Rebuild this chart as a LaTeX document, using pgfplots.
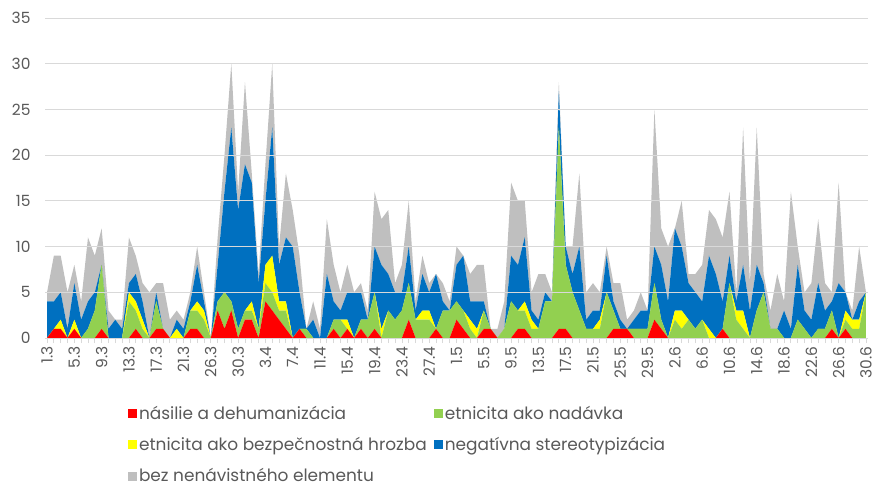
\documentclass[border=0pt]{standalone}
\usepackage{pgfplots}
\pgfplotsset{compat=1.18}
\usepackage{pgfplotstable}
\usepackage{fontspec}
\setmainfont{Poppins}
\definecolor{cred}{HTML}{FF0000}
\definecolor{cgreen}{HTML}{92D050}
\definecolor{cyellow}{HTML}{FFFF00}
\definecolor{cblue}{HTML}{0070C0}
\definecolor{cgrey}{HTML}{BFBFBF}
\definecolor{gridgrey}{HTML}{D9D9D9}
\definecolor{txtgrey}{HTML}{595959}

\pgfplotstableread{
i r g y b n
0 0 0 0 4 1
1 1 0 0 3 5
2 1 0 1 3 4
3 0 0 0 1 4
4 1 0 1 4 2
5 0 0 0 2 2
6 0 1 0 3 7
7 0 3 0 2 4
8 1 7 0 0 4
9 0 0 0 1 2
10 0 0 0 2 0
11 0 0 0 1 1
12 0 4 1 1 5
13 1 2 1 3 2
14 0 1 1 2 2
15 0 0 0 0 5
16 1 3 0 1 1
17 1 0 0 0 5
18 0 0 0 0 2
19 0 0 1 1 1
20 0 0 0 1 1
21 1 2 0 1 1
22 1 2 1 4 2
23 0 2 1 1 1
24 0 0 0 0 0
25 3 1 0 4 3
26 1 4 0 11 4
27 3 1 0 19 7
28 0 1 0 13 2
29 2 1 0 16 9
30 2 1 1 13 1
31 0 1 0 5 1
32 4 2 2 7 4
33 3 2 4 14 7
34 2 1 1 4 2
35 1 2 1 7 7
36 0 0 0 10 4
37 1 0 0 4 4
38 0 1 0 0 0
39 0 0 0 2 2
40 0 0 0 0 1
41 0 0 0 7 6
42 1 1 0 2 4
43 0 2 0 1 2
44 1 0 1 3 3
45 0 0 0 5 0
46 1 1 0 3 1
47 0 2 0 0 1
48 1 4 0 5 6
49 0 0 1 7 5
50 0 3 0 4 7
51 0 2 0 3 1
52 0 3 0 2 3
53 2 4 0 4 5
54 0 2 0 1 1
55 0 2 1 4 2
56 0 2 1 2 1
57 1 0 0 6 0
58 0 3 0 1 2
59 0 3 0 0 1
60 2 2 0 4 2
61 1 2 0 6 0
62 0 1 1 2 3
63 0 0 1 3 4
64 1 2 0 1 4
65 1 0 0 0 0
66 0 0 0 0 1
67 0 1 0 0 3
68 0 4 0 5 8
69 1 2 0 5 7
70 1 2 1 7 4
71 0 1 1 1 2
72 0 1 0 1 5
73 0 4 0 1 2
74 0 4 0 0 1
75 1 22 0 4 1
76 1 7 0 2 0
77 0 5 0 2 3
78 0 3 0 7 8
79 0 1 0 1 3
80 0 1 0 2 3
81 0 1 1 1 2
82 0 5 0 4 1
83 1 2 0 1 2
84 1 0 0 1 4
85 1 0 0 0 1
86 0 1 0 1 1
87 0 1 0 2 2
88 0 1 0 2 0
89 2 4 0 4 15
90 1 1 0 6 4
91 0 0 0 4 6
92 0 2 1 9 0
93 0 1 2 7 5
94 0 2 0 4 1
95 0 1 0 4 2
96 0 2 0 2 4
97 0 0 1 8 5
98 0 0 0 7 6
99 1 0 0 3 7
100 0 6 0 3 7
101 0 2 1 1 1
102 0 1 2 5 15
103 0 0 0 3 3
104 0 3 0 5 15
105 0 5 0 1 1
106 0 1 0 0 2
107 0 1 0 0 6
108 0 0 0 3 1
109 0 0 0 1 15
110 0 2 0 6 2
111 0 1 0 2 2
112 0 0 0 2 4
113 0 1 0 5 7
114 0 1 0 2 3
115 1 2 0 1 1
116 0 0 0 6 11
117 1 1 1 2 0
118 0 1 1 0 1
119 0 1 1 2 6
120 0 5 0 0 0
}\data

\begin{document}
\begin{tikzpicture}
\begin{axis}[
  width=823bp, height=320bp, scale only axis,
  xmin=-0.3, xmax=120.3, ymin=0, ymax=35,
  stack plots=y,
  area style,
  axis x line*=bottom, axis y line*=left,
  axis line style={-},
  x axis line style={draw=gridgrey, line width=0.8pt},
  y axis line style={draw=none},
  ytick={0,5,...,35},
  ymajorgrids, grid style={gridgrey, line width=0.8pt},
  ytick style={draw=none},
  xtick={0,4,...,120},
  xticklabels={1.3,5.3,9.3,13.3,17.3,21.3,26.3,30.3,3.4,7.4,11.4,15.4,19.4,23.4,27.4,1.5,5.5,9.5,13.5,17.5,21.5,25.5,29.5,2.6,6.6,10.6,14.6,18.6,22.6,26.6,30.6},
  minor x tick num=3,
  tick align=outside,
  major tick length=5bp, minor tick length=5bp,
  xtick style={draw=gridgrey, line width=0.8pt},
  minor tick style={draw=gridgrey, line width=0.8pt},
  /pgf/number format/assume math mode=true,
  tick label style={font=\fontsize{15.5}{17}\selectfont, text=txtgrey},
  x tick label style={rotate=90, anchor=east},
  y tick label style={anchor=east, xshift=-6bp},
  legend columns=2,
  legend cell align=left,
  legend image code/.code={\fill[#1] (0bp,-4.5bp) rectangle (9bp,4.5bp);},
  legend style={at={(0.097,-0.2)}, anchor=north west, draw=none, fill=none,
    font=\fontsize{17}{20}\selectfont, text=txtgrey,
    row sep=12.5bp,
    /tikz/every even column/.append style={column sep=5bp}},
]
\addplot[fill=cred, draw=none] table[x=i, y=r] {\data} \closedcycle;
\addlegendentry{násilie a dehumanizácia}
\addplot[fill=cgreen, draw=none] table[x=i, y=g] {\data} \closedcycle;
\addlegendentry{etnicita ako nadávka}
\addplot[fill=cyellow, draw=none] table[x=i, y=y] {\data} \closedcycle;
\addlegendentry{etnicita ako bezpečnostná hrozba}
\addplot[fill=cblue, draw=none] table[x=i, y=b] {\data} \closedcycle;
\addlegendentry{negatívna stereotypizácia}
\addplot[fill=cgrey, draw=none] table[x=i, y=n] {\data} \closedcycle;
\addlegendentry{bez nenávistného elementu}
\coordinate (BL) at (rel axis cs:0,0);
\coordinate (TR) at (rel axis cs:1,1);
\end{axis}
\pgfresetboundingbox
\path[use as bounding box] ([xshift=-45bp,yshift=-149bp]BL) rectangle ([xshift=8bp,yshift=18bp]TR);
\end{tikzpicture}
\end{document}
